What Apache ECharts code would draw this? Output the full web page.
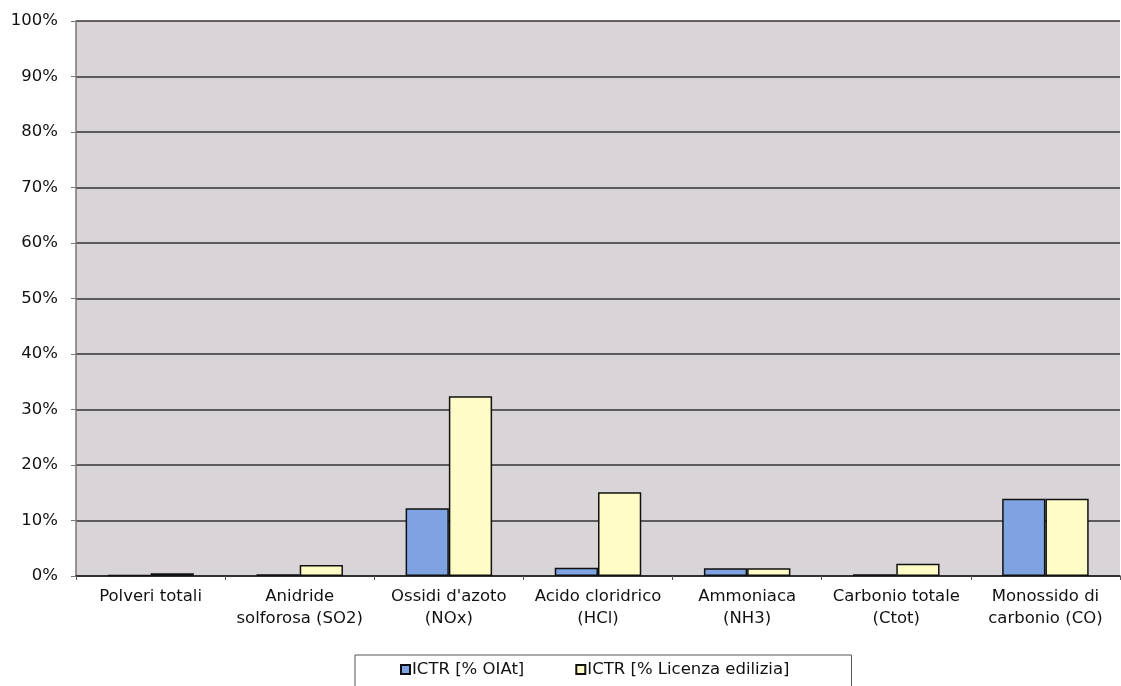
<!DOCTYPE html>
<html><head><meta charset="utf-8">
<script src="https://cdn.jsdelivr.net/npm/echarts@6/dist/echarts.min.js"></script>
<style>html,body{margin:0;padding:0;background:#fff}#c{width:1121px;height:686px}</style>
</head><body><div id="c"></div>
<script>
const categories = ["Polveri totali","Anidride\nsolforosa (SO2)","Ossidi d'azoto\n(NOx)","Acido cloridrico\n(HCl)","Ammoniaca\n(NH3)","Carbonio totale\n(Ctot)","Monossido di\ncarbonio (CO)"];
const seriesNames = ["ICTR [% OIAt]","ICTR [% Licenza edilizia]"];
const oiat = [0.2, 0.3, 12.2, 1.5, 1.4, 0.3, 13.9];
const licenza = [0.5, 2.0, 32.4, 15.1, 1.4, 2.2, 13.9];
const yTicks = [0,10,20,30,40,50,60,70,80,90,100];

const chart = echarts.init(document.getElementById('c'));
chart.setOption({
  backgroundColor:'#fff',
  animation:false,
  textStyle:{fontFamily:'DejaVu Sans, sans-serif'},
  grid:{left:76, right:1, top:21, bottom:110, show:true, backgroundColor:'#d9d4d8', borderWidth:0},
  legend:{
    left:355, top:655, width:580,
    data:seriesNames,
    itemWidth:9, itemHeight:9, itemGap:51,
    padding:[6,62,14,45],
    borderColor:'#555', borderWidth:1,
    textStyle:{fontSize:16.5, color:'#111', padding:[0,0,0,-3], fontFamily:'DejaVu Sans'},
    icon:'rect'
  },
  xAxis:{
    type:'category', data:categories,
    axisLine:{lineStyle:{color:'#222', width:1.5}},
    axisTick:{show:true, length:4, lineStyle:{color:'#555'}},
    axisLabel:{fontSize:16.5, color:'#111', lineHeight:22, margin:10, interval:0}
  },
  yAxis:{
    type:'value', min:0, max:100, interval:10,
    axisLine:{show:true, lineStyle:{color:'#777', width:1.5}},
    axisTick:{show:true, length:5, lineStyle:{color:'#777'}},
    axisLabel:{fontSize:16.5, color:'#111', margin:18, formatter: v => v + '%'},
    splitLine:{show:true, lineStyle:{color:'#333', width:1.5}}
  },
  series:[
    {name:seriesNames[0], type:'bar', data:oiat, barGap:'0%', barCategoryGap:'42%',
     itemStyle:{color:'#7ea3e0', borderColor:'#111', borderWidth:1.5}},
    {name:seriesNames[1], type:'bar', data:licenza,
     itemStyle:{color:'#fffcc8', borderColor:'#111', borderWidth:1.5}}
  ]
});
</script></body></html>
